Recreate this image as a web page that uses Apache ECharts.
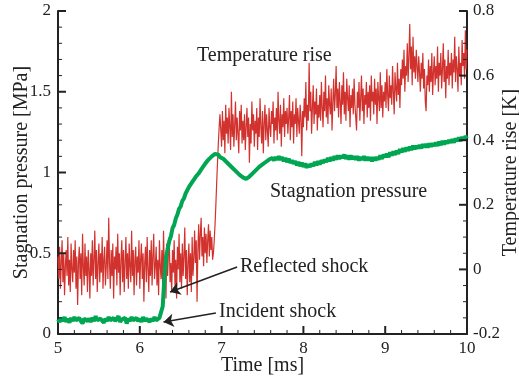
<!DOCTYPE html>
<html>
<head>
  <meta charset="UTF-8" />
  <title>Stagnation pressure and temperature rise</title>
  <script src="https://cdn.jsdelivr.net/npm/echarts@6/dist/echarts.min.js"></script>
  <style>
    body { margin: 0; padding: 0; background: #fff; }
    #chart { width: 519px; height: 381px; }
  </style>
</head>
<body>
  <div id="chart"></div>

  <script>
    // temperature rise [K] (right axis), 5.00 .. 10.00 ms every 0.01 ms
    const tempStart = 5;
    const tempStep = 0.01;
    const tempRise = [
      0.04, -0.03, 0.07, -0.06, 0.02, 0.09, -0.04, 0.05, -0.08, 0.01, 0.06, -0.02, 0.10, -0.05, 0.03, -0.07, 0.08, 0.00, -0.04, 0.06,
      -0.01, 0.09, -0.06, 0.04, -0.11, 0.02, 0.07, -0.03, 0.05, -0.08, 0.11, 0.01, -0.05, 0.08, -0.02, 0.04, -0.07, 0.06, 0.00, -0.09,
      0.05, -0.02, 0.09, -0.05, 0.03, 0.12, -0.03, 0.06, -0.07, 0.02, 0.08, -0.04, 0.05, -0.01, 0.10, -0.06, 0.03, 0.07, -0.05, 0.01,
      0.09, -0.03, 0.16, 0.02, -0.06, 0.06, -0.02, 0.08, -0.09, 0.04, 0.00, 0.07, -0.05, 0.11, -0.01, 0.05, -0.08, 0.03, 0.09, -0.04,
      0.06, -0.07, 0.02, 0.10, -0.03, 0.05, -0.06, 0.08, 0.01, -0.04, 0.12, -0.02, 0.06, -0.08, 0.03, 0.07, -0.05, 0.04, -0.01, 0.09,
      -0.06, 0.03, 0.08, -0.03, 0.05, -0.10, 0.02, 0.07, -0.04, 0.10, 0.00, -0.07, 0.06, -0.02, 0.09, -0.05, 0.04, 0.11, -0.03, 0.01,
      0.07, -0.05, 0.03, -0.08, 0.09, 0.01, -0.03, 0.06, -0.06, 0.12, -0.01, 0.04, -0.09, 0.08, -0.02, 0.05, 0.10, -0.04, 0.02, -0.07,
      0.06, -0.01, 0.09, -0.05, 0.03, -0.09, 0.07, 0.00, 0.11, -0.04, 0.05, -0.06, 0.08, -0.02, 0.04, 0.13, -0.03, 0.06, -0.08, 0.02,
      0.08, -0.04, 0.05, -0.07, 0.10, -0.02, 0.03, 0.12, 0.02, 0.09, -0.10, 0.06, 0.14, 0.03, 0.11, 0.16, 0.04, 0.10, 0.01, 0.13,
      0.05, 0.11, 0.02, 0.09, 0.14, 0.04, 0.12, 0.06, 0.10, 0.03, 0.05, 0.09, 0.14, 0.20, 0.27, 0.33, 0.39, 0.44, 0.48, 0.43,
      0.38, 0.49, 0.40, 0.46, 0.36, 0.51, 0.42, 0.47, 0.39, 0.50, 0.44, 0.37, 0.55, 0.41, 0.48, 0.38, 0.45, 0.52, 0.40, 0.47,
      0.42, 0.36, 0.49, 0.43, 0.51, 0.39, 0.46, 0.40, 0.48, 0.37, 0.44, 0.50, 0.41, 0.47, 0.33, 0.45, 0.39, 0.52, 0.43, 0.48,
      0.38, 0.46, 0.42, 0.50, 0.37, 0.47, 0.41, 0.53, 0.44, 0.39, 0.49, 0.36, 0.45, 0.51, 0.40, 0.48, 0.43, 0.38, 0.50, 0.44,
      0.41, 0.49, 0.45, 0.52, 0.39, 0.47, 0.43, 0.50, 0.40, 0.55, 0.46, 0.42, 0.51, 0.38, 0.48, 0.44, 0.53, 0.41, 0.49, 0.45,
      0.50, 0.42, 0.47, 0.54, 0.40, 0.49, 0.44, 0.52, 0.39, 0.48, 0.45, 0.53, 0.41, 0.50, 0.46, 0.42, 0.51, 0.47, 0.35, 0.49,
      0.44, 0.53, 0.47, 0.58, 0.43, 0.51, 0.46, 0.64, 0.49, 0.55, 0.42, 0.50, 0.57, 0.45, 0.52, 0.48, 0.56, 0.43, 0.51, 0.47,
      0.54, 0.46, 0.58, 0.50, 0.44, 0.55, 0.49, 0.60, 0.47, 0.53, 0.45, 0.57, 0.51, 0.48, 0.56, 0.43, 0.52, 0.59, 0.49, 0.54,
      0.63, 0.50, 0.56, 0.47, 0.58, 0.52, 0.45, 0.57, 0.51, 0.61, 0.48, 0.55, 0.46, 0.59, 0.53, 0.49, 0.57, 0.44, 0.54, 0.50,
      0.56, 0.48, 0.59, 0.51, 0.47, 0.43, 0.55, 0.50, 0.58, 0.46, 0.53, 0.60, 0.49, 0.56, 0.45, 0.54, 0.51, 0.58, 0.47, 0.55,
      0.50, 0.57, 0.46, 0.60, 0.52, 0.55, 0.48, 0.59, 0.51, 0.56, 0.45, 0.58, 0.53, 0.49, 0.61, 0.50, 0.57, 0.47, 0.55, 0.52,
      0.58, 0.50, 0.62, 0.54, 0.49, 0.60, 0.53, 0.57, 0.51, 0.63, 0.55, 0.48, 0.61, 0.56, 0.52, 0.64, 0.54, 0.59, 0.50, 0.62,
      0.57, 0.65, 0.59, 0.68, 0.55, 0.63, 0.60, 0.70, 0.58, 0.66, 0.76, 0.62, 0.69, 0.57, 0.72, 0.61, 0.66, 0.59, 0.68, 0.63,
      0.58, 0.66, 0.61, 0.55, 0.64, 0.59, 0.67, 0.56, 0.62, 0.52, 0.49, 0.60, 0.57, 0.65, 0.55, 0.63, 0.58, 0.67, 0.54, 0.61,
      0.66, 0.57, 0.63, 0.59, 0.69, 0.55, 0.64, 0.60, 0.67, 0.56, 0.62, 0.70, 0.58, 0.65, 0.53, 0.63, 0.59, 0.68, 0.57, 0.64,
      0.60, 0.67, 0.56, 0.65, 0.61, 0.72, 0.58, 0.66, 0.62, 0.55, 0.69, 0.60, 0.64, 0.57, 0.71, 0.63, 0.67, 0.59, 0.74, 0.62,
      0.68
    ];

    // stagnation pressure [MPa] (left axis), 5.00 .. 10.00 ms every 0.02 ms
    const presStart = 5;
    const presStep = 0.02;
    const stagPressure = [
      0.09, 0.075, 0.10, 0.08, 0.105, 0.075, 0.095, 0.07, 0.10, 0.08,
      0.105, 0.085, 0.075, 0.10, 0.08, 0.065, 0.095, 0.105, 0.08, 0.095,
      0.075, 0.10, 0.08, 0.11, 0.085, 0.075, 0.095, 0.10, 0.07, 0.095,
      0.08, 0.105, 0.085, 0.075, 0.10, 0.08, 0.095, 0.11, 0.075, 0.09,
      0.08, 0.10, 0.065, 0.095, 0.08, 0.105, 0.085, 0.075, 0.10, 0.08,
      0.095, 0.075, 0.105, 0.08, 0.095, 0.10, 0.075, 0.095, 0.08, 0.105,
      0.085, 0.08, 0.10, 0.09,
      0.17, 0.34, 0.475, 0.525, 0.575, 0.605, 0.655, 0.675, 0.715, 0.74,
      0.775, 0.79, 0.825, 0.84, 0.87, 0.88, 0.91, 0.915, 0.94, 0.945,
      0.97, 0.975, 0.995, 1.0, 1.025, 1.03, 1.055, 1.055, 1.08, 1.08,
      1.10, 1.095, 1.115, 1.105, 1.11, 1.095, 1.095,
      1.085, 1.08, 1.065, 1.06, 1.045, 1.035, 1.025, 1.015, 1.005, 0.995,
      0.985, 0.975, 0.97, 0.965, 0.96, 0.97, 0.975, 0.985, 0.995, 1.005,
      1.015, 1.025, 1.035, 1.045, 1.05, 1.06, 1.065, 1.07, 1.08, 1.075,
      1.09, 1.075, 1.095, 1.08, 1.10, 1.08, 1.095, 1.07, 1.09, 1.065,
      1.085, 1.06, 1.075, 1.055, 1.07, 1.045, 1.065, 1.04, 1.06, 1.035,
      1.055, 1.03, 1.05, 1.035, 1.055, 1.04, 1.065, 1.045, 1.07, 1.05,
      1.075, 1.06, 1.08, 1.065, 1.09, 1.07, 1.095, 1.075, 1.10, 1.08,
      1.105, 1.085, 1.105, 1.09, 1.11, 1.085, 1.105, 1.08, 1.105, 1.085,
      1.10, 1.08, 1.10, 1.075, 1.095, 1.08, 1.10, 1.075, 1.095, 1.075,
      1.095, 1.07, 1.095, 1.075, 1.095, 1.08, 1.105, 1.085, 1.11, 1.095,
      1.115, 1.095, 1.125, 1.105, 1.13, 1.11, 1.135, 1.115, 1.145, 1.125,
      1.15, 1.13, 1.155, 1.135, 1.16, 1.14, 1.165, 1.145, 1.165, 1.15,
      1.17, 1.15, 1.175, 1.155, 1.175, 1.155, 1.18, 1.16, 1.18, 1.165,
      1.185, 1.165, 1.19, 1.17, 1.195, 1.175, 1.195, 1.18, 1.20, 1.185,
      1.205, 1.185, 1.21, 1.195, 1.215, 1.195, 1.22, 1.20, 1.225, 1.21
    ];

    // annotation arrows [from, to] in (ms, MPa)
    const reflectedArrow = [[7.19, 0.415], [6.37, 0.26]];
    const incidentArrow = [[6.93, 0.13], [6.29, 0.074]];

    const serif = 'Liberation Serif';
    const ink = '#222';
    const toPoints = (arr, t0, dt) => arr.map((v, i) => [+(t0 + i * dt).toFixed(2), v]);

    function axisStyle(labelMargin) {
      return {
        nameLocation: 'middle',
        nameMoveOverlap: false,
        nameTextStyle: { fontFamily: serif, fontSize: 20, color: ink },
        axisLine: { show: true, onZero: false, lineStyle: { color: ink, width: 2 } },
        axisTick: { show: false },
        minorTick: { show: false },
        splitLine: { show: false },
        axisLabel: { fontFamily: serif, fontSize: 17, color: ink, margin: labelMargin }
      };
    }

    function note(text, left, top) {
      return {
        text: text, left: left, top: top, padding: 0,
        textStyle: { fontFamily: serif, fontSize: 20, fontWeight: 'normal', color: ink }
      };
    }

    const chart = echarts.init(document.getElementById('chart'));

    chart.setOption({
      animation: false,
      title: [
        note('Temperature rise', 197, 46),
        note('Stagnation pressure', 270, 182),
        note('Reflected shock', 240, 257),
        note('Incident shock', 219, 302)
      ],
      grid: { left: 58, right: 52, top: 11, bottom: 47, outerBoundsMode: 'none' },
      xAxis: Object.assign(axisStyle(6), {
        type: 'value', min: 5, max: 10, interval: 1,
        name: 'Time [ms]', nameGap: 22
      }),
      yAxis: [
        Object.assign(axisStyle(7), {
          type: 'value', position: 'left', min: 0, max: 2, interval: 0.5,
          name: 'Stagnation pressure [MPa]', nameRotate: 90, nameGap: 26
        }),
        Object.assign(axisStyle(6), {
          type: 'value', position: 'right', min: -0.2, max: 0.8, interval: 0.2,
          name: 'Temperature rise [K]', nameRotate: 90, nameGap: 34
        })
      ],
      series: [
        {
          name: 'Temperature rise',
          type: 'line',
          yAxisIndex: 1,
          symbol: 'none',
          lineStyle: { color: '#d2322d', width: 1.2 },
          data: toPoints(tempRise, tempStart, tempStep)
        },
        {
          name: 'Stagnation pressure',
          type: 'line',
          yAxisIndex: 0,
          symbol: 'none',
          lineStyle: { color: '#00a651', width: 4 },
          data: toPoints(stagPressure, presStart, presStep),
          markLine: {
            silent: true,
            symbol: ['none', 'arrow'],
            symbolSize: 10,
            label: { show: false },
            lineStyle: { color: ink, width: 1.5, type: 'solid' },
            data: [
              [{ coord: reflectedArrow[0] }, { coord: reflectedArrow[1] }],
              [{ coord: incidentArrow[0] }, { coord: incidentArrow[1] }]
            ]
          }
        }
      ]
    });

    // inward major/minor ticks, placed through the axes' own scales
    const ticks = [];
    function tick(x1, y1, x2, y2, major) {
      ticks.push({
        type: 'line', silent: true, z: 100,
        shape: { x1: x1, y1: y1, x2: x2, y2: y2 },
        style: { stroke: ink, lineWidth: major ? 2 : 1 }
      });
    }
    const xPx = v => chart.convertToPixel({ xAxisIndex: 0 }, v);
    const yLeftPx = v => chart.convertToPixel({ yAxisIndex: 0 }, v);
    const yRightPx = v => chart.convertToPixel({ yAxisIndex: 1 }, v);
    const bottom = yLeftPx(0), leftX = xPx(5), rightX = xPx(10);

    for (let k = 0; k <= 25; k++) {           // time: 1 ms major, 0.2 ms minor
      const major = k % 5 === 0, px = xPx(5 + k * 0.2);
      tick(px, bottom, px, bottom - (major ? 8 : 4), major);
    }
    for (let k = 0; k <= 20; k++) {           // pressure: 0.5 major, 0.1 minor
      const major = k % 5 === 0, py = yLeftPx(k * 0.1);
      tick(leftX, py, leftX + (major ? 8 : 4), py, major);
    }
    for (let k = 0; k <= 20; k++) {           // temperature: 0.2 major, 0.05 minor
      const major = k % 4 === 0, py = yRightPx(-0.2 + k * 0.05);
      tick(rightX, py, rightX - (major ? 8 : 4), py, major);
    }
    chart.setOption({ graphic: ticks });
  </script>
</body>
</html>
